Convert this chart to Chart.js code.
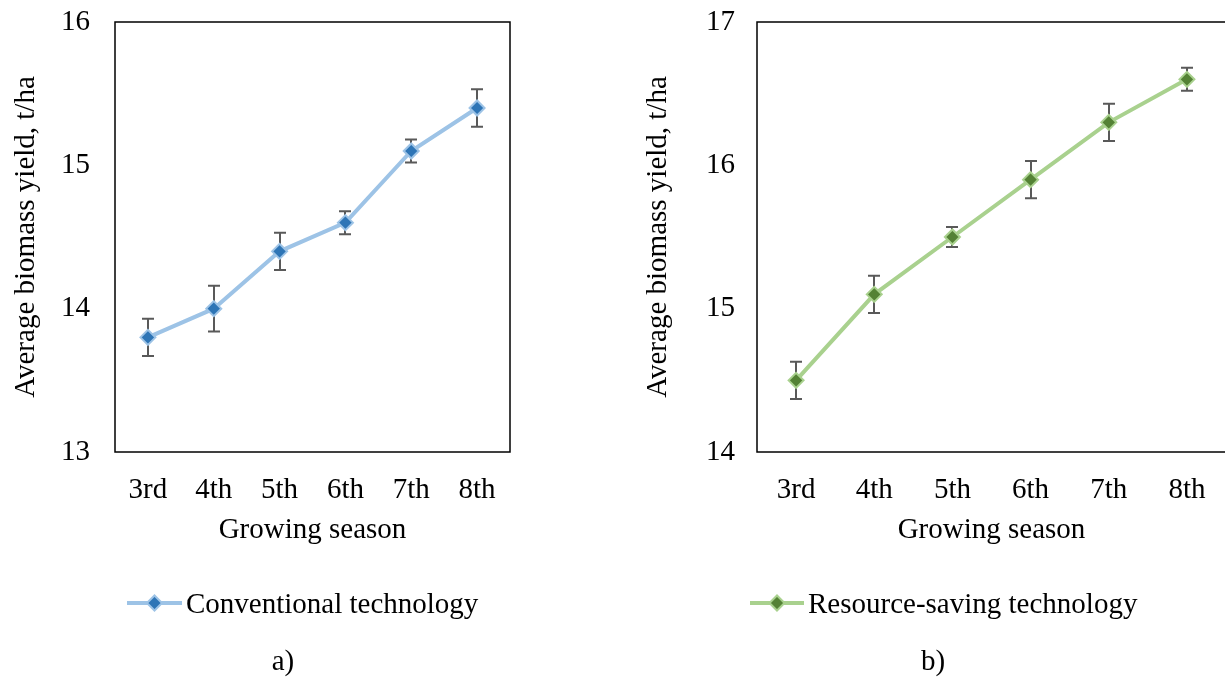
<!DOCTYPE html>
<html>
<head>
<meta charset="utf-8">
<script src="https://cdn.jsdelivr.net/npm/chart.js@4.4.1/dist/chart.umd.min.js"></script>
<style>
  html, body { margin: 0; padding: 0; background: #fff; overflow: hidden; }
  body { width: 1225px; height: 678px; position: relative; }
  canvas { position: absolute; top: 0; }
  #chartA { left: 0; }
  #chartB { left: 620px; }
</style>
</head>
<body>
<canvas id="chartA" width="600" height="678"></canvas>
<canvas id="chartB" width="620" height="678"></canvas>
<script>
// data
const seasons = ["3rd", "4th", "5th", "6th", "7th", "8th"];
const conventional = [13.8, 14.0, 14.4, 14.6, 15.1, 15.4];
const conventionalErr = [0.13, 0.16, 0.13, 0.08, 0.08, 0.13];
const resourceSaving = [14.5, 15.1, 15.5, 15.9, 16.3, 16.6];
const resourceSavingErr = [0.13, 0.13, 0.07, 0.13, 0.13, 0.08];
const yRangeA = [13, 16];
const yRangeB = [14, 17];

const FONT = "'Liberation Serif', 'Times New Roman', serif";
Chart.defaults.font.family = FONT;
Chart.defaults.font.size = 29;
Chart.defaults.color = "#000";

// whiskers, drawn under the line and markers
const errorBars = {
  id: "errorBars",
  beforeDatasetsDraw(chart, args, opts) {
    const ctx = chart.ctx;
    const xs = chart.scales.x, ys = chart.scales.y;
    chart.data.datasets.forEach(ds => {
      if (!ds.errors) return;
      ctx.save();
      ctx.strokeStyle = opts.color;
      ctx.lineWidth = opts.width;
      ds.data.forEach((v, j) => {
        const px = Math.round(xs.getPixelForValue(j));
        const top = ys.getPixelForValue(v + ds.errors[j]);
        const bot = ys.getPixelForValue(v - ds.errors[j]);
        ctx.beginPath();
        ctx.moveTo(px, top); ctx.lineTo(px, bot);
        ctx.moveTo(px - opts.cap, top); ctx.lineTo(px + opts.cap, top);
        ctx.moveTo(px - opts.cap, bot); ctx.lineTo(px + opts.cap, bot);
        ctx.stroke();
      });
      ctx.restore();
    });
  }
};

// plot frame
const frame = {
  id: "frame",
  beforeDatasetsDraw(chart) {
    const a = chart.chartArea, ctx = chart.ctx;
    ctx.save();
    ctx.strokeStyle = "#000";
    ctx.lineWidth = 1.5;
    ctx.strokeRect(a.left, a.top, a.right - a.left, a.bottom - a.top);
    ctx.restore();
  }
};

// legend sample + caption under the chart
const bottomText = {
  id: "bottomText",
  afterDraw(chart, args, opts) {
    const ctx = chart.ctx;
    const ds = chart.data.datasets[0];
    ctx.save();
    ctx.strokeStyle = ds.borderColor;
    ctx.lineWidth = ds.borderWidth;
    ctx.beginPath();
    ctx.moveTo(opts.x1, opts.y); ctx.lineTo(opts.x2, opts.y);
    ctx.stroke();
    ctx.fillStyle = ds.pointBackgroundColor;
    ctx.strokeStyle = ds.pointBorderColor;
    ctx.lineWidth = ds.pointBorderWidth;
    Chart.helpers.drawPoint(ctx, { pointStyle: "rectRot", radius: ds.pointRadius, borderWidth: ds.pointBorderWidth, rotation: 0 },
      (opts.x1 + opts.x2) / 2, opts.y);
    ctx.fillStyle = "#000";
    ctx.font = "29px " + FONT;
    ctx.textBaseline = "middle";
    ctx.textAlign = "left";
    ctx.fillText(ds.label, opts.x2 + 4, opts.y + 2);
    ctx.textAlign = "center";
    ctx.fillText(opts.caption, opts.capX, opts.capY);
    ctx.restore();
  }
};

function makeChart(id, label, values, errs, yRange, lineCol, markCol, yw, titlePad, tickPad, padRight, legend) {
  return new Chart(document.getElementById(id), {
    type: "line",
    data: {
      labels: seasons,
      datasets: [{
        label: label,
        data: values,
        errors: errs,
        borderColor: lineCol,
        borderWidth: 4,
        pointStyle: "rectRot",
        pointRadius: 7.5,
        pointBackgroundColor: markCol,
        pointBorderColor: lineCol,
        pointBorderWidth: 2,
        fill: false,
        tension: 0
      }]
    },
    options: {
      responsive: false,
      animation: false,
      layout: { padding: { top: 22, right: padRight, left: 0, bottom: 0 } },
      plugins: {
        legend: { display: false },
        tooltip: { enabled: false },
        errorBars: { color: "#595959", width: 2, cap: 6 },
        bottomText: legend
      },
      scales: {
        x: {
          offset: true,
          grid: { display: false },
          border: { display: false },
          ticks: { padding: 13 },
          title: { display: true, text: "Growing season", padding: { top: 0, bottom: 130 } },
          afterFit(s) { s.height = 226; s.paddingLeft = 0; s.paddingRight = 0; }
        },
        y: {
          min: yRange[0],
          max: yRange[1],
          grid: { display: false },
          border: { display: false },
          ticks: { stepSize: 1, padding: tickPad },
          title: { display: true, text: "Average biomass yield, t/ha", padding: { top: titlePad, bottom: 0 } },
          afterFit(s) { s.width = yw; s.paddingTop = 0; s.paddingBottom = 0; }
        }
      }
    },
    plugins: [frame, errorBars, bottomText]
  });
}

makeChart("chartA", "Conventional technology", conventional, conventionalErr, yRangeA,
  "#9DC3E6", "#2E75B6", 115, 9, 17, 90,
  { x1: 127, x2: 182, y: 603, caption: "a)", capX: 283, capY: 662 });

makeChart("chartB", "Resource-saving technology", resourceSaving, resourceSavingErr, yRangeB,
  "#A9D18E", "#548235", 137, 21, 14, 14,
  { x1: 130, x2: 184, y: 603, caption: "b)", capX: 313, capY: 662 });
</script>
</body>
</html>
